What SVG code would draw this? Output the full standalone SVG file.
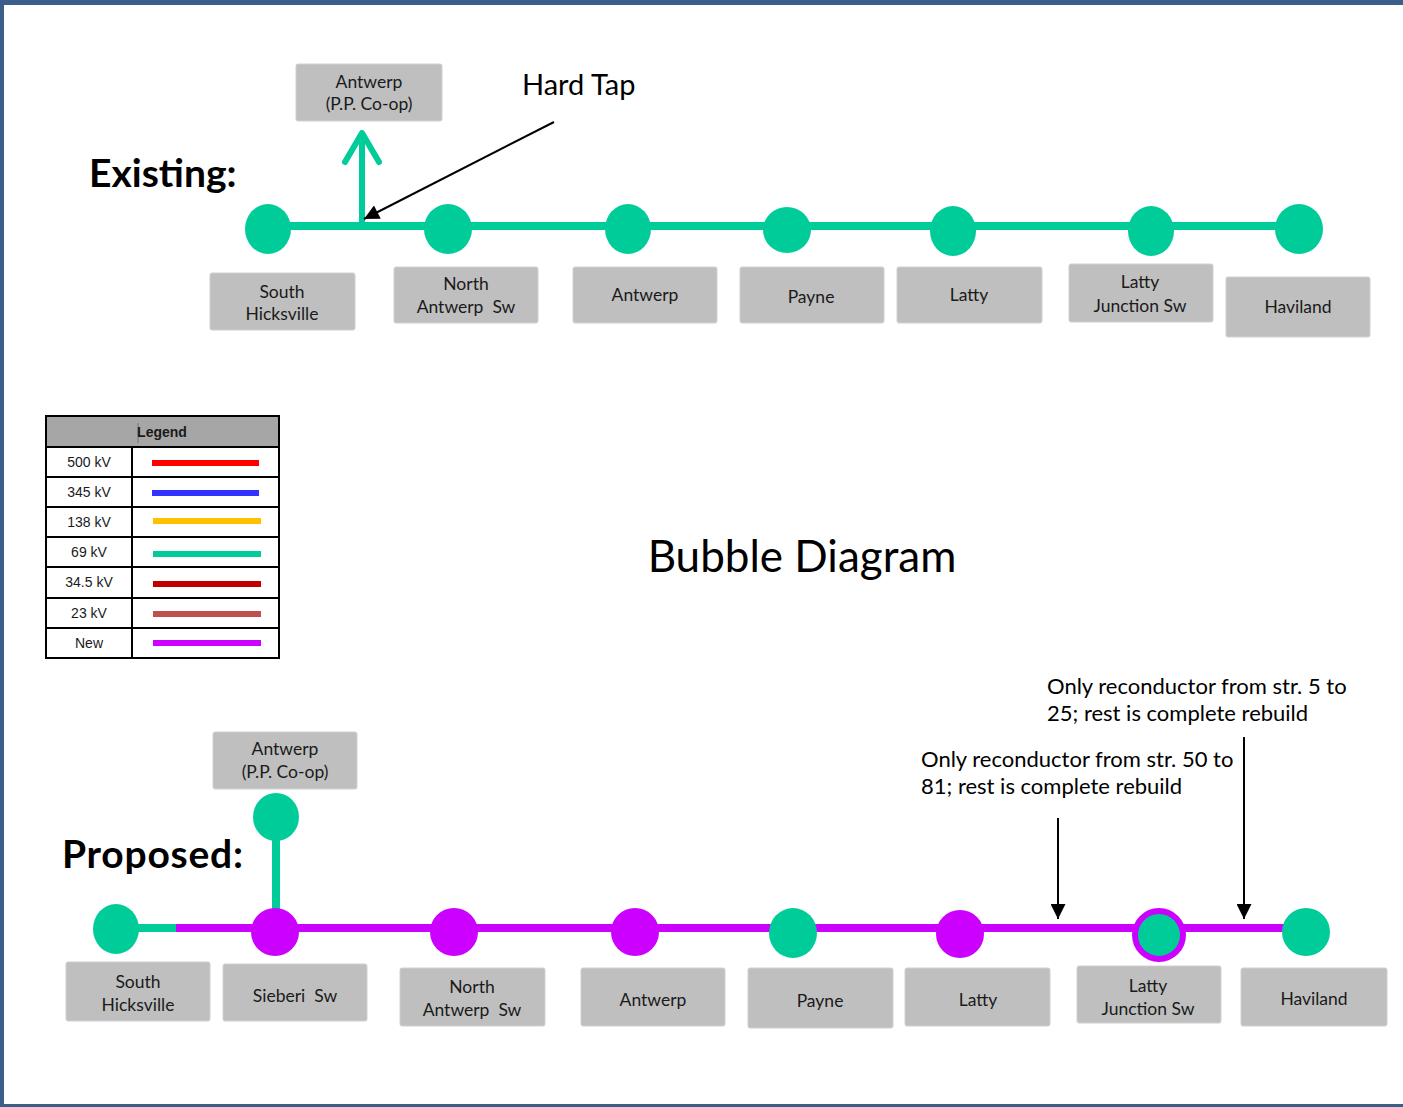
<svg xmlns="http://www.w3.org/2000/svg" width="1403" height="1107" viewBox="0 0 1403 1107">
<defs>
<style>
.box{fill:#BFBFBF;stroke:#D0D0D0;stroke-width:1}
.bt{font-family:Lato,"Liberation Sans",sans-serif;font-size:17.5px;fill:#1A1A1A;text-anchor:middle}
.g{fill:#00CC99}
.m{fill:#CC00FF}
.lg{font-family:"Liberation Sans",Arial,sans-serif;font-size:14px;fill:#1A1A1A;text-anchor:middle}
.title{font-family:Lato,"Liberation Sans",sans-serif;font-weight:bold;font-size:39px;fill:#000}
.note{font-family:Lato,"Liberation Sans",sans-serif;font-size:22px;fill:#000}
</style>
<marker id="ah" viewBox="0 0 10 10" refX="10" refY="5" markerUnits="userSpaceOnUse" markerWidth="16" markerHeight="15" orient="auto">
<path d="M0,0 L10,5 L0,10 z" fill="#000"/>
</marker>
</defs>
<rect x="0" y="0" width="1403" height="1107" fill="#FFFFFF"/>
<rect x="0" y="0" width="1403" height="5" fill="#3A5F8B"/>
<rect x="0" y="0" width="4" height="1107" fill="#3A5F8B"/>
<rect x="0" y="1104" width="1403" height="3" fill="#3A5F8B"/>

<text class="title" x="89" y="187">Existing:</text>
<text class="title" x="62" y="868" textLength="181" lengthAdjust="spacing">Proposed:</text>
<text x="802" y="572" font-family="Lato,'Liberation Sans',sans-serif" font-size="44" fill="#000" text-anchor="middle">Bubble Diagram</text>
<text x="522" y="95" font-family="Lato,'Liberation Sans',sans-serif" font-size="29" fill="#000">Hard Tap</text>
<text class="note" x="1047" y="694">Only reconductor from str. 5 to</text>
<text class="note" x="1047" y="721">25; rest is complete rebuild</text>
<text class="note" x="921" y="767">Only reconductor from str. 50 to</text>
<text class="note" x="921" y="794">81; rest is complete rebuild</text>

<g id="connectors">
<line x1="268" y1="226" x2="1299" y2="226" stroke="#00CC99" stroke-width="8"/>
<line x1="362" y1="226" x2="362" y2="134" stroke="#00CC99" stroke-width="6"/>
<polyline points="345,162 362,133 379,162" fill="none" stroke="#00CC99" stroke-width="6" stroke-linecap="round" stroke-linejoin="round"/>
<line x1="554" y1="122" x2="364" y2="219" stroke="#000" stroke-width="2" marker-end="url(#ah)"/>
<line x1="276" y1="817" x2="276" y2="930" stroke="#00CC99" stroke-width="8"/>
<line x1="116" y1="928" x2="177" y2="928" stroke="#00CC99" stroke-width="8"/>
<line x1="176" y1="928" x2="1306" y2="928" stroke="#CC00FF" stroke-width="8"/>
<line x1="1058" y1="818" x2="1058" y2="919" stroke="#000" stroke-width="2" marker-end="url(#ah)"/>
<line x1="1244" y1="737" x2="1244" y2="919" stroke="#000" stroke-width="2" marker-end="url(#ah)"/>
</g>

<g id="existing-south-hicksville"><ellipse class="g" cx="268" cy="229" rx="23" ry="25"/><rect class="box" x="210" y="273" width="145" height="57" rx="2"/><text class="bt" x="282" y="298">South</text><text class="bt" x="282" y="320">Hicksville</text></g>
<g id="existing-north-antwerp-sw"><ellipse class="g" cx="448" cy="229" rx="24" ry="25"/><rect class="box" x="394" y="267" width="144" height="56" rx="2"/><text class="bt" x="466" y="290">North</text><text class="bt" x="466" y="313" xml:space="preserve">Antwerp  Sw</text></g>
<g id="existing-antwerp"><ellipse class="g" cx="628" cy="229" rx="23" ry="25"/><rect class="box" x="573" y="267" width="144" height="56" rx="2"/><text class="bt" x="645" y="301">Antwerp</text></g>
<g id="existing-payne"><ellipse class="g" cx="787" cy="230" rx="24" ry="23"/><rect class="box" x="740" y="267" width="144" height="56" rx="2"/><text class="bt" x="811" y="303">Payne</text></g>
<g id="existing-latty"><ellipse class="g" cx="953" cy="231" rx="23" ry="25"/><rect class="box" x="897" y="267" width="145" height="56" rx="2"/><text class="bt" x="969" y="301">Latty</text></g>
<g id="existing-latty-junction-sw"><ellipse class="g" cx="1151" cy="231" rx="23" ry="25"/><rect class="box" x="1069" y="264" width="144" height="58" rx="2"/><text class="bt" x="1140" y="288">Latty</text><text class="bt" x="1140" y="312">Junction Sw</text></g>
<g id="existing-haviland"><ellipse class="g" cx="1299" cy="229" rx="24" ry="25"/><rect class="box" x="1226" y="277" width="144" height="60" rx="2"/><text class="bt" x="1298" y="313">Haviland</text></g>
<g id="existing-antwerp-ppcoop"><rect class="box" x="296" y="64" width="146" height="57" rx="2"/><text class="bt" x="369" y="88">Antwerp</text><text class="bt" x="369" y="110">(P.P. Co-op)</text></g>

<g id="proposed-antwerp-ppcoop"><ellipse class="g" cx="276" cy="817" rx="23" ry="24"/><rect class="box" x="213" y="732" width="144" height="57" rx="2"/><text class="bt" x="285" y="755">Antwerp</text><text class="bt" x="285" y="778">(P.P. Co-op)</text></g>
<g id="proposed-south-hicksville"><ellipse class="g" cx="116" cy="929" rx="23" ry="25"/><rect class="box" x="66" y="962" width="144" height="59" rx="2"/><text class="bt" x="138" y="988">South</text><text class="bt" x="138" y="1011">Hicksville</text></g>
<g id="proposed-sieberi-sw"><ellipse class="m" cx="275" cy="932" rx="24" ry="24"/><rect class="box" x="223" y="964" width="144" height="57" rx="2"/><text class="bt" x="295" y="1002" xml:space="preserve">Sieberi  Sw</text></g>
<g id="proposed-north-antwerp-sw"><ellipse class="m" cx="454" cy="932" rx="24" ry="24"/><rect class="box" x="400" y="968" width="145" height="58" rx="2"/><text class="bt" x="472" y="993">North</text><text class="bt" x="472" y="1016" xml:space="preserve">Antwerp  Sw</text></g>
<g id="proposed-antwerp"><ellipse class="m" cx="635" cy="932" rx="24" ry="24"/><rect class="box" x="581" y="968" width="144" height="58" rx="2"/><text class="bt" x="653" y="1006">Antwerp</text></g>
<g id="proposed-payne"><ellipse class="g" cx="793" cy="933" rx="24" ry="25"/><rect class="box" x="748" y="968" width="145" height="60" rx="2"/><text class="bt" x="820" y="1007">Payne</text></g>
<g id="proposed-latty"><ellipse class="m" cx="960" cy="934" rx="24" ry="24"/><rect class="box" x="905" y="968" width="145" height="58" rx="2"/><text class="bt" x="978" y="1006">Latty</text></g>
<g id="proposed-latty-junction-sw"><ellipse cx="1159" cy="935" rx="24" ry="24" fill="#00CC99" stroke="#CC00FF" stroke-width="6"/><rect class="box" x="1077" y="966" width="144" height="57" rx="2"/><text class="bt" x="1148" y="992">Latty</text><text class="bt" x="1148" y="1015">Junction Sw</text></g>
<g id="proposed-haviland"><ellipse class="g" cx="1306" cy="932" rx="24" ry="24"/><rect class="box" x="1241" y="968" width="146" height="58" rx="2"/><text class="bt" x="1314" y="1005">Haviland</text></g>

<g id="legend">
<rect x="46" y="416" width="233" height="242" fill="#FFFFFF" stroke="#000" stroke-width="2"/>
<rect x="46" y="416" width="233" height="31" fill="#A6A6A6" stroke="#000" stroke-width="2"/>
<line x1="138" y1="423" x2="138" y2="443" stroke="#777" stroke-width="1"/>
<text x="162" y="437" font-family="'Liberation Sans',Arial,sans-serif" font-size="14" font-weight="bold" fill="#1A1A1A" text-anchor="middle">Legend</text>
<g stroke="#000" stroke-width="2">
<line x1="132" y1="447" x2="132" y2="658"/>
<line x1="46" y1="477" x2="279" y2="477"/>
<line x1="46" y1="507" x2="279" y2="507"/>
<line x1="46" y1="537" x2="279" y2="537"/>
<line x1="46" y1="567" x2="279" y2="567"/>
<line x1="46" y1="598" x2="279" y2="598"/>
<line x1="46" y1="628" x2="279" y2="628"/>
</g>
<text class="lg" x="89" y="467">500 kV</text>
<text class="lg" x="89" y="497">345 kV</text>
<text class="lg" x="89" y="527">138 kV</text>
<text class="lg" x="89" y="557">69 kV</text>
<text class="lg" x="89" y="587">34.5 kV</text>
<text class="lg" x="89" y="618">23 kV</text>
<text class="lg" x="89" y="648">New</text>
<line x1="152" y1="463" x2="259" y2="463" stroke="#FF0000" stroke-width="6"/>
<line x1="152" y1="493" x2="259" y2="493" stroke="#3333FF" stroke-width="6"/>
<line x1="153" y1="521" x2="261" y2="521" stroke="#FFC000" stroke-width="6"/>
<line x1="153" y1="554" x2="261" y2="554" stroke="#00CC99" stroke-width="6"/>
<line x1="153" y1="584" x2="261" y2="584" stroke="#C00000" stroke-width="6"/>
<line x1="153" y1="614" x2="261" y2="614" stroke="#C0504D" stroke-width="6"/>
<line x1="153" y1="643" x2="261" y2="643" stroke="#CC00FF" stroke-width="6"/>
</g>
</svg>
